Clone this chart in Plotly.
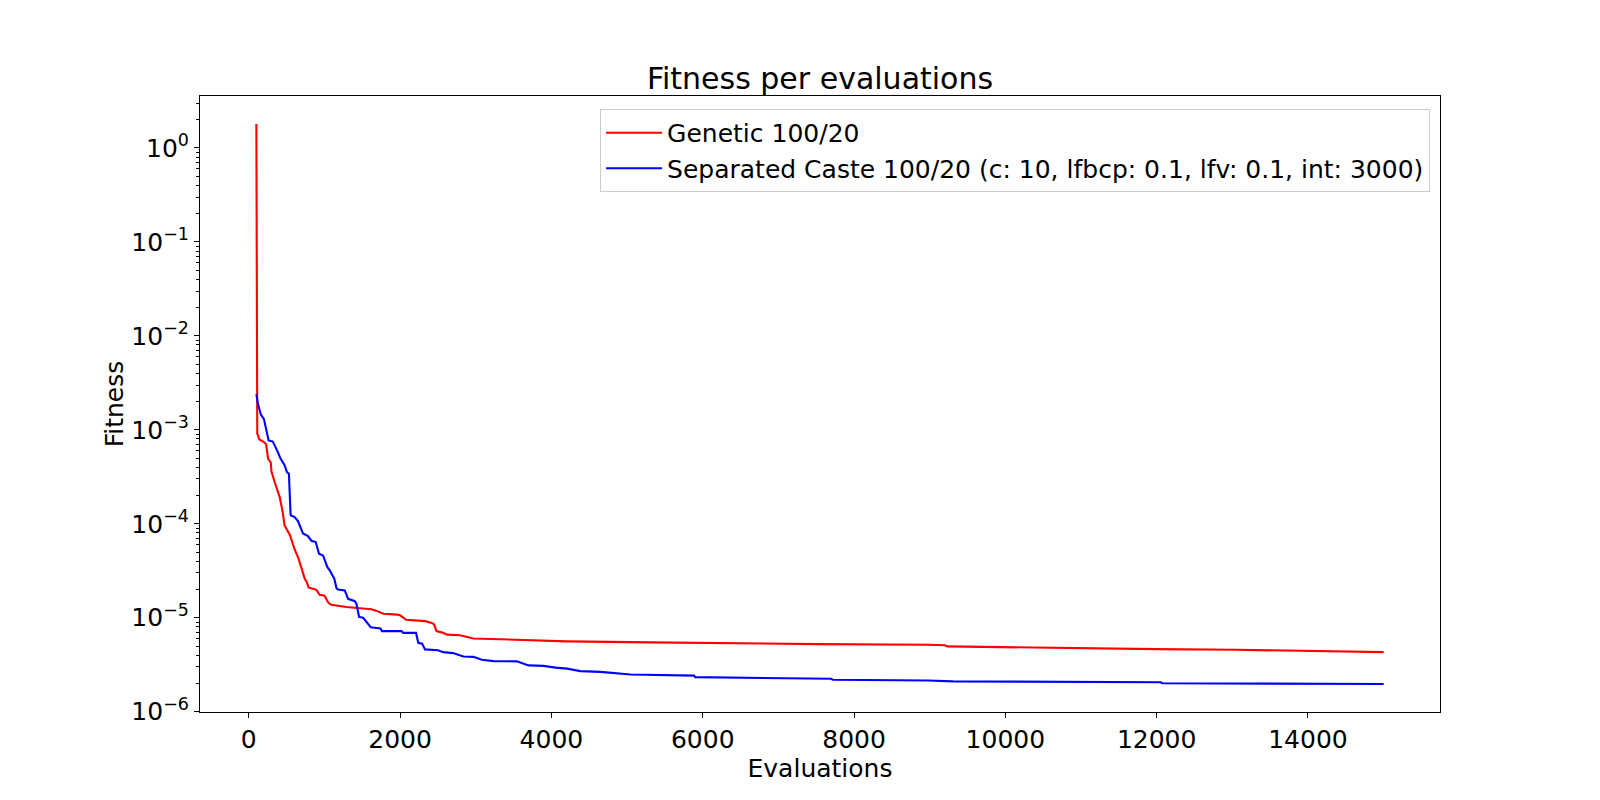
import math
import plotly.graph_objects as go

# ---- data ----
genetic_x = [100, 112, 140, 200, 230, 255, 290, 300, 341, 390, 410, 450, 473, 520, 545,
             600, 640, 660, 700, 740, 765, 790, 880, 900, 935, 1000, 1050, 1090, 1290,
             1560, 1620, 1680, 1760, 1780, 1960, 2000, 2080, 2330, 2420, 2450, 2480,
             2570, 2620, 2790, 2860, 2970, 3320, 3760, 4200, 5310, 6420, 7520, 8980,
             9200, 9230, 10350, 11980, 13040, 14410, 15000]
genetic_y = [1.8, 9.1e-4, 7.9e-4, 7.4e-4, 7.0e-4, 4.9e-4, 4.5e-4, 3.6e-4, 2.8e-4, 2.2e-4,
             1.9e-4, 1.3e-4, 9.6e-5, 8.2e-5, 7.5e-5, 5.5e-5, 4.6e-5, 4.2e-5, 3.3e-5,
             2.6e-5, 2.4e-5, 2.1e-5, 2.0e-5, 1.95e-5, 1.75e-5, 1.72e-5, 1.45e-5, 1.37e-5,
             1.30e-5, 1.26e-5, 1.23e-5, 1.19e-5, 1.12e-5, 1.10e-5, 1.08e-5, 1.06e-5,
             9.5e-6, 9.2e-6, 8.8e-6, 8.5e-6, 7.2e-6, 6.9e-6, 6.6e-6, 6.5e-6, 6.3e-6,
             6.0e-6, 5.9e-6, 5.75e-6, 5.6e-6, 5.46e-6, 5.33e-6, 5.24e-6, 5.15e-6,
             5.1e-6, 4.95e-6, 4.8e-6, 4.63e-6, 4.56e-6, 4.41e-6, 4.3e-6]

caste_x = [100, 120, 160, 200, 262, 318, 384, 416, 473, 504, 530, 553, 606, 650, 716,
           782, 827, 884, 928, 981, 1039, 1070, 1130, 1160, 1180, 1268, 1313, 1401,
           1423, 1458, 1511, 1556, 1613, 1740, 1760, 2020, 2040, 2210, 2240, 2290,
           2330, 2500, 2570, 2700, 2836, 2970, 3080, 3234, 3544, 3698, 3897, 4052,
           4206, 4383, 4648, 5046, 5885, 5900, 7696, 7720, 8979, 9309, 10347, 12050,
           12080, 14280, 15000]
caste_y = [2.4e-3, 1.9e-3, 1.45e-3, 1.3e-3, 7.7e-4, 7.5e-4, 5.8e-4, 5.0e-4, 4.2e-4,
           3.55e-4, 3.4e-4, 1.23e-4, 1.18e-4, 1.07e-4, 7.9e-5, 7.4e-5, 6.6e-5, 6.4e-5,
           4.8e-5, 4.6e-5, 3.45e-5, 3.2e-5, 2.6e-5, 2.05e-5, 2.0e-5, 1.95e-5, 1.59e-5,
           1.5e-5, 1.4e-5, 1.02e-5, 1.0e-5, 9.0e-6, 7.9e-6, 7.7e-6, 7.2e-6, 7.2e-6,
           6.9e-6, 6.9e-6, 5.4e-6, 5.3e-6, 4.6e-6, 4.5e-6, 4.3e-6, 4.2e-6, 3.87e-6,
           3.83e-6, 3.57e-6, 3.45e-6, 3.43e-6, 3.11e-6, 3.07e-6, 2.94e-6, 2.87e-6,
           2.7e-6, 2.65e-6, 2.49e-6, 2.42e-6, 2.33e-6, 2.24e-6, 2.19e-6, 2.15e-6,
           2.1e-6, 2.09e-6, 2.06e-6, 2.01e-6, 1.99e-6, 1.97e-6]

series_names = ["Genetic 100/20",
                "Separated Caste 100/20 (c: 10, lfbcp: 0.1, lfv: 0.1, int: 3000)"]
x_ticks = [0, 2000, 4000, 6000, 8000, 10000, 12000, 14000]
y_tick_exps = [-6, -5, -4, -3, -2, -1, 0]

# ---- figure ----
FONT = "DejaVu Sans"
FS = 25
fig = go.Figure()
fig.add_trace(go.Scatter(x=genetic_x, y=genetic_y, mode="lines", name=series_names[0],
                         line=dict(color="#ff0000", width=2.1)))
fig.add_trace(go.Scatter(x=caste_x, y=caste_y, mode="lines", name=series_names[1],
                         line=dict(color="#0000ff", width=2.1)))

# matplotlib-like 5% auto margins
all_x = genetic_x + caste_x
xmin, xmax = min(all_x), max(all_x)
xpad = 0.05 * (xmax - xmin)
all_ly = [math.log10(v) for v in genetic_y + caste_y]
lymin, lymax = min(all_ly), max(all_ly)
ypad = 0.05 * (lymax - lymin)

minor_vals = [k * 10.0 ** e for e in range(-7, 1) for k in range(2, 10)]

axis_common = dict(showline=True, linecolor="black", linewidth=1.1, mirror=True,
                   ticks="outside", ticklen=5, tickwidth=1.1, tickcolor="black",
                   showgrid=False, zeroline=False,
                   tickfont=dict(family=FONT, size=FS, color="black"))

fig.update_xaxes(range=[xmin - xpad, xmax + xpad], tickvals=x_ticks,
                 ticktext=[str(v) for v in x_ticks],
                 title=dict(text="Evaluations", font=dict(family=FONT, size=FS, color="black"),
                            standoff=0),
                 **axis_common)
fig.update_yaxes(type="log", range=[lymin - ypad, lymax + ypad],
                 tickvals=[10.0 ** e for e in y_tick_exps],
                 ticktext=["10<sup>\u2212%d</sup>" % (-e) if e < 0 else "10<sup>%d</sup>" % e
                           for e in y_tick_exps],
                 minor=dict(tickvals=minor_vals, ticks="outside", ticklen=3,
                            tickwidth=0.8, tickcolor="black", showgrid=False),
                 title=dict(text="Fitness", font=dict(family=FONT, size=FS, color="black"),
                            standoff=0),
                 **axis_common)

# page body adds an 8px offset; compensate so the axes land where the reference has them
fig.update_layout(
    width=1584, height=784,
    margin=dict(l=192, r=152, t=88, b=80),
    paper_bgcolor="white", plot_bgcolor="white",
    font=dict(family=FONT, size=FS, color="black"),
    title=dict(text="Fitness per evaluations", x=0.5, xref="paper", xanchor="center",
               y=0.897, yref="container", yanchor="bottom",
               font=dict(family=FONT, size=30, color="black")),
    legend=dict(x=0.992, y=0.979, xanchor="right", yanchor="top",
                bgcolor="rgba(255,255,255,0.8)", bordercolor="#cccccc", borderwidth=1,
                font=dict(family=FONT, size=FS, color="black"),
                tracegroupgap=0, itemwidth=56),
    showlegend=True,
)

fig.write_html("out.html")
